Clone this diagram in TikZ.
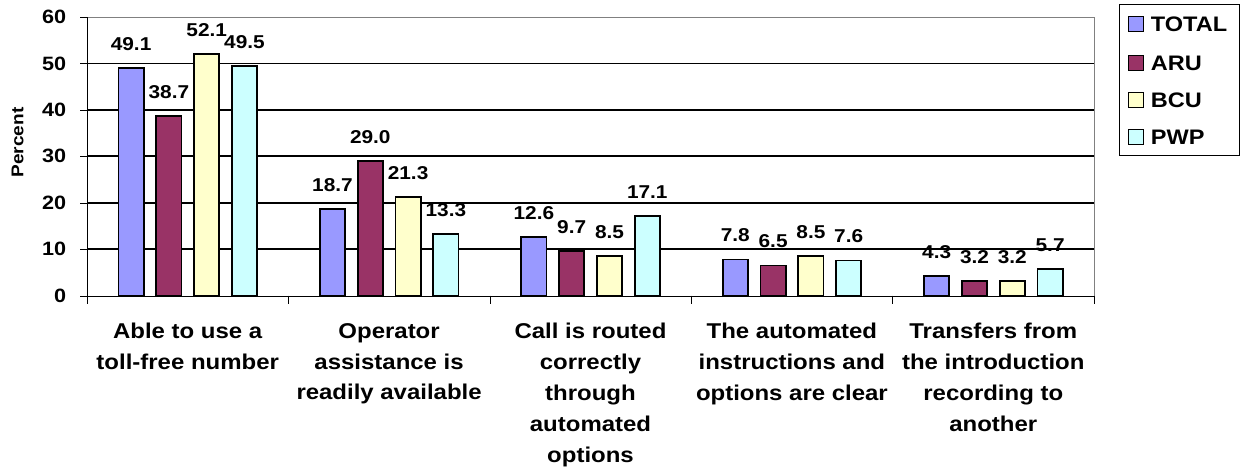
\documentclass[tikz,border=0pt]{standalone}
\usepackage{fontspec}
\setmainfont{Liberation Sans}[FakeStretch=1.12]
\usepackage{tikz}
\usetikzlibrary{positioning}
\definecolor{bar_total}{HTML}{9999FF}
\definecolor{bar_aru}{HTML}{993366}
\definecolor{bar_bcu}{HTML}{FFFFCC}
\definecolor{bar_pwp}{HTML}{CCFFFF}
\definecolor{frame_gray}{HTML}{808080}

\begin{document}
\begin{tikzpicture}[x=1pt, y=-1pt]
	\tikzset{
		line width=1.8pt, % every line of the chart is this thick
		every node/.style={inner sep=0pt, font=\bfseries}, % bold text everywhere
		bar/.style={draw=black, line width=1.8pt}, % sets properties for each bar
		gridline/.style={draw=black, line width=1.8pt}, % horizontal lines of the value axis
	}
	\tikzstyle{vlabel} = [font={\fontsize{18.6}{22}\selectfont\bfseries}]
	\tikzstyle{ticklabel} = [anchor=east, font={\fontsize{19.3}{22}\selectfont\bfseries}]
	\tikzstyle{catlabel} = [anchor=north, align=center, font={\fontsize{21.4}{30.8}\selectfont\bfseries}]
	\tikzstyle{legtext} = [anchor=west, font={\fontsize{21}{24}\selectfont\bfseries}]
	\useasboundingbox (0,0) rectangle (1243,469);

	% grid and frame
	\foreach \g in {1,...,5}
		\draw[gridline] (87,{295.7-46.45*\g}) -- (1094,{295.7-46.45*\g});
	\draw[frame_gray] (87,17) -- (1094,17) -- (1094,295.7);
	\draw (87,17) -- (87,304);
	\draw (87,295.7) -- (1094,295.7);
	\foreach \g [evaluate=\g as \lab using int(10*\g)] in {0,...,6} {
		\draw (80,{295.7-46.45*\g}) -- (87,{295.7-46.45*\g});
		\node[ticklabel] (t\g) at (67,{295.7-46.45*\g}) {\lab};
	}
	\foreach \i in {1,...,5}
		\draw ({87+201.4*\i},295.7) -- ({87+201.4*\i},304);
	\node[rotate=90, font={\fontsize{17}{20}\selectfont\bfseries}] (ylabel) at (17.5,142.5) {Percent};

	% bars and values
	\foreach \i/\va/\vb/\vc/\vd in {0/49.1/38.7/52.1/49.5, 1/18.7/29.0/21.3/13.3, 2/12.6/9.7/8.5/17.1, 3/7.8/6.5/8.5/7.6, 4/4.3/3.2/3.2/5.7} {
		\foreach \j/\v/\colr in {0/\va/bar_total, 1/\vb/bar_aru, 2/\vc/bar_bcu, 3/\vd/bar_pwp} {
			\pgfmathsetmacro{\xl}{87+201.4*\i+31.5+37.8*\j}
			\pgfmathsetmacro{\yt}{295.7-4.645*\v}
			\draw[bar, fill=\colr] (\xl,295.7) rectangle (\xl+25.2,\yt);
			\node[vlabel] (v\i\j) at (\xl+12.6,\yt-24) {\v};
		}
	}

	% category names
	\foreach \i/\txt in {0/{Able to use a\\toll-free number}, 1/{Operator\\assistance is\\readily available}, 2/{Call is routed\\correctly\\through\\automated\\options}, 3/{The automated\\instructions and\\options are clear}, 4/{Transfers from\\the introduction\\recording to\\another}}
		\node[catlabel] (c\i) at ({87+201.4*(\i+0.5)},322.5) {\txt};

	% legend
	\draw (1119,4) rectangle (1239,155);
	\foreach \k/\name/\colr/\yy in {0/TOTAL/bar_total/24, 1/ARU/bar_aru/63, 2/BCU/bar_bcu/100, 3/PWP/bar_pwp/137} {
		\draw[line width=1.5pt, fill=\colr] (1128.5,\yy-7.5) rectangle (1143.5,\yy+7.5);
		\node[legtext] (leg\k) at (1150,\yy) {\name};
	}
\end{tikzpicture}
\end{document}
